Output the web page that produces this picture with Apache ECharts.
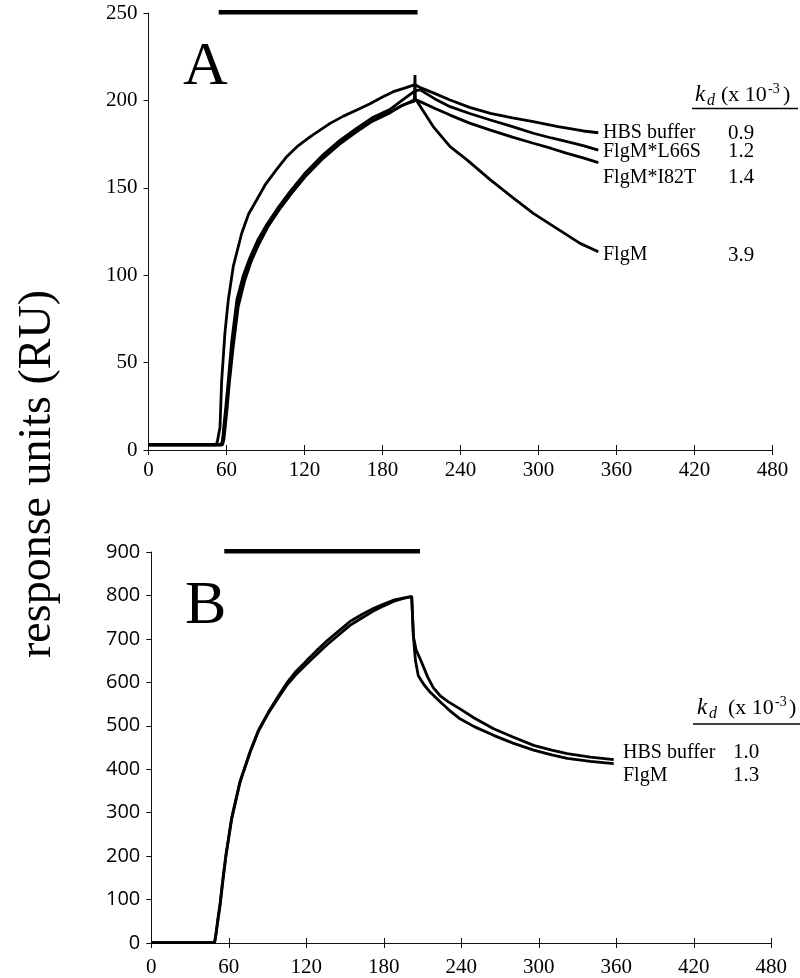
<!DOCTYPE html>
<html>
<head>
<meta charset="utf-8">
<script src="https://cdn.jsdelivr.net/npm/echarts/dist/echarts.min.js"></script>
<style>
html,body{margin:0;padding:0;background:#fff;}
#chart{width:800px;height:978px;}
</style>
</head>
<body>
<div id="chart"></div>
<script>
// ---------- Panel A data (time s, response RU) ----------
var hbsA_t = [0, 52, 53, 55, 56.3, 58.8, 61.4, 65.2, 71.7, 77, 83.2, 90, 98, 106.3, 115, 124, 131.9, 140, 150, 160.2, 170, 180, 188.3, 197, 205, 210, 220, 232, 247, 263, 280, 296, 315, 334.5, 346];
var hbsA_y = [3, 3, 5, 13, 40, 67, 86, 105, 124, 135, 143, 152, 160, 167.8, 174, 179, 183, 187, 191, 194.5, 198, 202, 205, 207, 209, 207, 204, 200.2, 196, 192.6, 190, 187.8, 185, 182.5, 181.5];

var l66sA_t = [0, 56, 57, 58, 59.5, 61.4, 64, 68, 73, 78, 84, 91, 100, 109, 120, 134.5, 147, 160, 172, 186, 195, 205, 209, 220, 232, 247, 263, 280, 296, 310, 322, 335, 346];
var l66sA_y = [3, 3, 6, 14, 25, 40, 62, 86, 100, 110, 120, 129, 139, 148, 158, 169, 177, 184, 190, 195, 200, 205.5, 206, 201, 196.4, 192.5, 188.8, 185, 181.2, 178.5, 176.4, 174, 171.6];

var i82tA_t = [0, 56, 57, 58, 59.5, 61.4, 64, 68, 73, 78, 84, 91, 100, 109, 120, 134.5, 147, 160, 172, 186, 195, 205, 209, 220, 232, 247, 263, 280, 296, 310, 322, 335, 346];
var i82tA_y = [3, 3, 5, 11, 21, 35, 56, 81, 96, 107, 117, 127, 137, 146, 156, 167, 175, 182, 188, 193, 197, 200.5, 199.3, 195.5, 191.6, 187, 183, 179, 175.5, 172.5, 169.7, 167, 164.4];

var flgmA_t = [0, 57, 58, 59, 60.5, 62, 65, 69, 74, 79, 85, 92, 101, 110, 121, 135, 148, 161, 173, 187, 196, 204.5, 205, 205, 205.3, 219, 232, 245, 263, 281, 296, 314, 332, 346];
var flgmA_y = [3, 3, 6, 13, 24, 37, 58, 82, 97, 108, 118, 128, 138, 147, 157, 168, 176, 183, 189, 194, 197.5, 199.5, 199.5, 214.5, 201, 185, 173.5, 166, 154.5, 144, 135.4, 126.8, 118.2, 113.4];

// ---------- Panel B data ----------
var hbsB_t = [0, 49, 50, 51.5, 53.2, 55.5, 57.8, 62.2, 68.7, 76.4, 83, 90.6, 98, 104.8, 112, 120.3, 128, 135.8, 145, 153.8, 163, 171.9, 180, 187.4, 195, 201.6, 202.9, 202.9, 205, 209.3, 214, 218.3, 224, 230, 239, 250, 265, 280, 296, 310, 322, 340, 358];
var hbsB_y = [1, 1, 20, 55, 90, 150, 204, 288, 372, 440, 490, 531, 567, 598, 625, 650, 673, 695, 718, 740, 756, 770, 780, 789, 794, 798, 798, 706, 675, 646, 612, 588, 568, 555, 539, 518, 493, 474, 455, 444, 436, 428, 422];

var flgmB_t = [0, 49, 50, 51.5, 53.2, 55.5, 57.8, 62.2, 68.7, 76.4, 83, 90.6, 98, 104.8, 112, 120.3, 128, 135.8, 145, 153.8, 163, 171.9, 180, 187.4, 195, 201.6, 202.9, 202.9, 204.5, 206.7, 211, 216, 224, 231, 239, 250, 265, 280, 296, 310, 322, 340, 358];
var flgmB_y = [1, 1, 18, 50, 85, 145, 200, 285, 370, 438, 488, 529, 563, 593, 618, 642, 664, 686, 709, 731, 748, 764, 776, 786, 793, 797, 797, 706, 650, 615, 595, 577, 554, 535, 516, 498, 478, 460, 444, 433, 425, 418, 413];

// injection periods (bars)
var injA = [54, 207];
var injB = [56.5, 208];

// axis ticks
var xTicks = [0, 60, 120, 180, 240, 300, 360, 420, 480];
var yTicksA = [0, 50, 100, 150, 200, 250];
var yTicksB = [0, 100, 200, 300, 400, 500, 600, 700, 800, 900];

// labels
var namesA = ['HBS buffer', 'FlgM*L66S', 'FlgM*I82T', 'FlgM'];
var kdA = ['0.9', '1.2', '1.4', '3.9'];
var namesB = ['HBS buffer', 'FlgM'];
var kdB = ['1.0', '1.3'];

function zip(t, y) { return t.map(function (v, i) { return [v, y[i]]; }); }

var SERIF = '"Liberation Serif", "Times New Roman", serif';
var chart = echarts.init(document.getElementById('chart'), null, {renderer: 'canvas'});

function lineSeries(data, xi, yi) {
  return {
    type: 'line', xAxisIndex: xi, yAxisIndex: yi, data: data,
    showSymbol: false, symbol: 'none', silent: true, animation: false,
    lineStyle: {color: '#000', width: 2.8}
  };
}
function barSeries(inj, top, xi, yi) {
  return {
    type: 'line', xAxisIndex: xi, yAxisIndex: yi, data: [[inj[0], top], [inj[1], top]],
    showSymbol: false, symbol: 'none', clip: false, silent: true, animation: false,
    lineStyle: {color: '#000', width: 4.5}
  };
}

function xAxisCfg(gi, labelFont, margin) {
  return [{
    type: 'value', gridIndex: gi, min: xTicks[0], max: xTicks[xTicks.length - 1], interval: 60,
    axisLine: {show: true, onZero: false, lineStyle: {color: '#111', width: 1}},
    axisTick: {show: true, inside: false, length: 5, lineStyle: {color: '#111', width: 1}},
    axisLabel: {show: true, color: '#000', fontFamily: labelFont, fontSize: 21, margin: margin},
    splitLine: {show: false}
  }, {
    type: 'value', gridIndex: gi, min: xTicks[0], max: xTicks[xTicks.length - 1], interval: 60,
    position: 'bottom',
    axisLine: {show: false},
    axisTick: {show: true, inside: true, length: 5, lineStyle: {color: '#111', width: 1}},
    axisLabel: {show: false},
    splitLine: {show: false}
  }];
}
function yAxisCfg(gi, ticks, labelFont, fontSize) {
  return {
    type: 'value', gridIndex: gi, min: ticks[0], max: ticks[ticks.length - 1], interval: ticks[1] - ticks[0],
    axisLine: {show: true, onZero: false, lineStyle: {color: '#111', width: 1}},
    axisTick: {show: true, inside: false, length: 5, lineStyle: {color: '#111', width: 1}},
    axisLabel: {show: true, color: '#000', fontFamily: labelFont, fontSize: fontSize, margin: 11},
    splitLine: {show: false}
  };
}

function txt(text, x, y, size, opts) {
  opts = opts || {};
  var font = (opts.italic ? 'italic ' : '') + size + 'px ' + (opts.family || SERIF);
  return {
    type: 'text', x: x, y: y, rotation: opts.rotation || 0, silent: true,
    style: {
      text: text, x: 0, y: 0, font: font, fill: '#000',
      textAlign: opts.align || 'left', align: opts.align || 'left',
      textVerticalAlign: 'middle', verticalAlign: 'middle'
    }
  };
}

var graphics = [];
// Panel letters
graphics.push(txt('A', 183, 68, 62));
graphics.push(txt('B', 185, 607, 62));
// Y axis title
graphics.push(txt('response units (RU)', 38, 474, 46, {rotation: Math.PI / 2, align: 'center'}));

function kdHeader(xk, xd, xp, xs, xc, cy, ul, ulx1, ulx2) {
  graphics.push(txt('k', xk, cy, 23, {italic: true}));
  graphics.push(txt('d', xd, cy + 6, 16, {italic: true}));
  graphics.push(txt('(x 10', xp, cy, 22));
  graphics.push(txt('-3', xs, cy - 6, 14));
  graphics.push(txt(')', xc, cy, 22));
  graphics.push({type: 'line', silent: true, shape: {x1: ulx1, y1: ul, x2: ulx2, y2: ul}, style: {stroke: '#000', lineWidth: 1.5}});
}
kdHeader(695, 707, 721, 768, 783, 95, 108.5, 692, 798);
kdHeader(697, 709, 728, 775, 789, 708, 724, 693, 800);

var yA = [133, 151.5, 177.5, 255];
namesA.forEach(function (n, i) {
  graphics.push(txt(n, 603, yA[i], 20));
  graphics.push(txt(kdA[i], 728, yA[i], 21));
});
var yB = [752.5, 775.5];
namesB.forEach(function (n, i) {
  graphics.push(txt(n, 623, yB[i], 20));
  graphics.push(txt(kdB[i], 733, yB[i], 21));
});

var option = {
  backgroundColor: '#fff',
  animation: false,
  grid: [
    {left: 148.5, top: 13, width: 624, height: 437},
    {left: 151.3, top: 552, width: 620, height: 394}
  ],
  xAxis: xAxisCfg(0, SERIF, 10).concat(xAxisCfg(1, SERIF, 14)),
  yAxis: [
    yAxisCfg(0, yTicksA, SERIF, 21),
    yAxisCfg(1, yTicksB, '"Open Sans", "DejaVu Sans", sans-serif', 20)
  ],
  series: [
    lineSeries(zip(hbsA_t, hbsA_y), 0, 0),
    lineSeries(zip(l66sA_t, l66sA_y), 0, 0),
    lineSeries(zip(i82tA_t, i82tA_y), 0, 0),
    lineSeries(zip(flgmA_t, flgmA_y), 0, 0),
    barSeries(injA, yTicksA[yTicksA.length - 1] + 0.5, 0, 0),
    lineSeries(zip(hbsB_t, hbsB_y), 2, 1),
    lineSeries(zip(flgmB_t, flgmB_y), 2, 1),
    barSeries(injB, yTicksB[yTicksB.length - 1] + 2, 2, 1)
  ],
  graphic: graphics
};
chart.setOption(option);
</script>
</body>
</html>
